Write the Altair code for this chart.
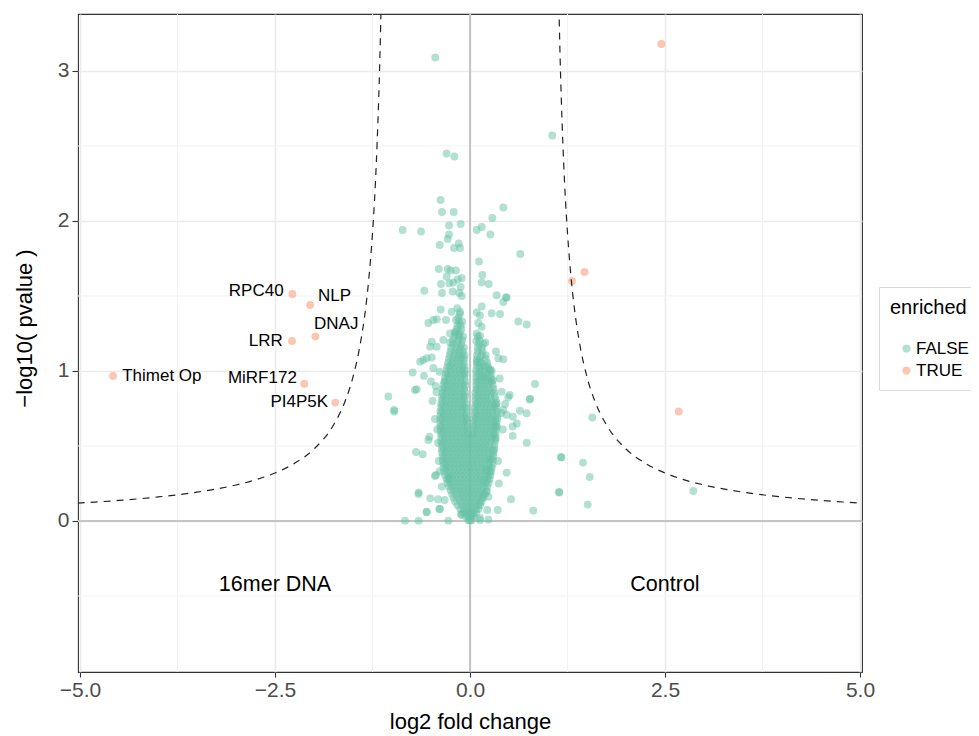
import altair as alt
import pandas as pd

# ---------------- data ----------------
# dense core of non-enriched proteins: one -log10 p level per row, fold changes in that row
core_y = [0.005, 0.03, 0.055, 0.08, 0.105, 0.13, 0.155, 0.18, 0.205, 0.23,
          0.255, 0.28, 0.305, 0.33, 0.355, 0.38, 0.405, 0.43, 0.455, 0.48,
          0.505, 0.53, 0.555, 0.58, 0.605, 0.63, 0.655, 0.68, 0.705, 0.73,
          0.755, 0.78, 0.805, 0.83, 0.855, 0.88, 0.905, 0.93, 0.955, 0.98,
          1.005, 1.03, 1.055, 1.08, 1.105, 1.13, 1.155, 1.18, 1.205, 1.23,
          1.255, 1.28, 1.305, 1.33, 1.355, 1.38]
core_x = [
    [-0.02, 0.0, 0.02],
    [-0.05, -0.025, 0.0, 0.025, 0.05],
    [-0.09, -0.05, -0.02, 0.02, 0.05, 0.08],
    [-0.125, -0.075, -0.025, 0.025, 0.075, 0.11],
    [-0.16, -0.1, -0.05, 0.0, 0.05, 0.1, 0.13],
    [-0.19, -0.125, -0.075, -0.025, 0.025, 0.075, 0.125, 0.15],
    [-0.21, -0.15, -0.1, -0.05, 0.0, 0.05, 0.1, 0.15, 0.17],
    [-0.23, -0.175, -0.125, -0.075, -0.025, 0.025, 0.075, 0.125, 0.175, 0.19],
    [-0.25, -0.2, -0.15, -0.1, -0.05, 0.0, 0.05, 0.1, 0.15, 0.21],
    [-0.27, -0.225, -0.175, -0.125, -0.075, -0.025, 0.025, 0.075, 0.125, 0.175, 0.22],
    [-0.29, -0.25, -0.2, -0.15, -0.1, -0.05, 0.0, 0.05, 0.1, 0.15, 0.2, 0.24],
    [-0.3, -0.275, -0.225, -0.175, -0.125, -0.075, -0.025, 0.025, 0.075, 0.125, 0.175, 0.225, 0.25],
    [-0.32, -0.27, -0.22, -0.17, -0.12, -0.07, -0.02, 0.03, 0.08, 0.13, 0.18, 0.23, 0.26],
    [-0.33, -0.295, -0.245, -0.195, -0.145, -0.095, -0.045, 0.005, 0.055, 0.105, 0.155, 0.205, 0.255, 0.27],
    [-0.34, -0.3, -0.25, -0.2, -0.15, -0.1, -0.05, 0.0, 0.05, 0.1, 0.15, 0.2, 0.25, 0.28],
    [-0.34, -0.315, -0.265, -0.215, -0.165, -0.115, -0.065, -0.015, 0.035, 0.085, 0.135, 0.185, 0.235, 0.29],
    [-0.35, -0.3, -0.25, -0.2, -0.15, -0.1, -0.05, 0.0, 0.05, 0.1, 0.15, 0.2, 0.25, 0.29],
    [-0.35, -0.325, -0.275, -0.225, -0.175, -0.125, -0.075, -0.025, 0.025, 0.075, 0.125, 0.175, 0.225, 0.275, 0.3],
    [-0.36, -0.31, -0.26, -0.21, -0.16, -0.11, -0.06, -0.01, 0.04, 0.09, 0.14, 0.19, 0.24, 0.3],
    [-0.36, -0.335, -0.285, -0.235, -0.185, -0.135, -0.085, -0.035, 0.015, 0.065, 0.115, 0.165, 0.215, 0.265, 0.31],
    [-0.36, -0.31, -0.26, -0.21, -0.16, -0.11, -0.06, -0.01, 0.04, 0.09, 0.14, 0.19, 0.24, 0.31],
    [-0.37, -0.335, -0.285, -0.235, -0.185, -0.135, -0.085, -0.035, 0.015, 0.065, 0.115, 0.165, 0.215, 0.265, 0.32],
    [-0.37, -0.32, -0.27, -0.22, -0.17, -0.12, -0.07, -0.02, 0.03, 0.08, 0.13, 0.18, 0.23, 0.28, 0.32],
    [-0.37, -0.345, -0.295, -0.245, -0.195, -0.145, -0.095, -0.045, -0.02, 0.03, 0.055, 0.105, 0.155, 0.205, 0.255, 0.305, 0.33],
    [-0.38, -0.33, -0.28, -0.23, -0.18, -0.13, -0.08, -0.03, 0.04, 0.09, 0.14, 0.19, 0.24, 0.29, 0.33],
    [-0.38, -0.355, -0.305, -0.255, -0.205, -0.155, -0.105, -0.055, -0.03, 0.04, 0.065, 0.115, 0.165, 0.215, 0.265, 0.315, 0.34],
    [-0.38, -0.33, -0.28, -0.23, -0.18, -0.13, -0.08, -0.04, 0.05, 0.1, 0.15, 0.2, 0.25, 0.3, 0.34],
    [-0.38, -0.355, -0.305, -0.255, -0.205, -0.155, -0.105, -0.055, -0.04, 0.05, 0.075, 0.125, 0.175, 0.225, 0.275, 0.325, 0.35],
    [-0.38, -0.33, -0.28, -0.23, -0.18, -0.13, -0.08, -0.05, 0.06, 0.1, 0.15, 0.2, 0.25, 0.3, 0.35],
    [-0.38, -0.355, -0.305, -0.255, -0.205, -0.155, -0.105, -0.05, 0.06, 0.085, 0.135, 0.185, 0.235, 0.285, 0.34],
    [-0.37, -0.32, -0.27, -0.22, -0.17, -0.12, -0.08, -0.05, 0.06, 0.11, 0.16, 0.21, 0.26, 0.31, 0.34],
    [-0.37, -0.345, -0.295, -0.245, -0.195, -0.145, -0.095, -0.05, 0.07, 0.095, 0.145, 0.195, 0.245, 0.295, 0.33],
    [-0.36, -0.31, -0.26, -0.21, -0.16, -0.11, -0.07, 0.07, 0.12, 0.17, 0.22, 0.27, 0.33],
    [-0.36, -0.335, -0.285, -0.235, -0.185, -0.135, -0.085, -0.06, 0.07, 0.105, 0.155, 0.205, 0.255, 0.32],
    [-0.35, -0.3, -0.25, -0.2, -0.15, -0.1, -0.06, 0.07, 0.12, 0.17, 0.22, 0.27, 0.31],
    [-0.35, -0.325, -0.275, -0.225, -0.175, -0.125, -0.075, 0.08, 0.095, 0.145, 0.195, 0.245, 0.3],
    [-0.34, -0.29, -0.24, -0.19, -0.14, -0.09, -0.06, 0.08, 0.13, 0.18, 0.23, 0.29],
    [-0.33, -0.315, -0.265, -0.215, -0.165, -0.115, -0.065, 0.08, 0.105, 0.155, 0.205, 0.255, 0.28],
    [-0.32, -0.27, -0.22, -0.17, -0.12, -0.07, 0.08, 0.13, 0.18, 0.23, 0.27],
    [-0.31, -0.285, -0.235, -0.185, -0.135, -0.085, -0.065, 0.08, 0.115, 0.165, 0.215, 0.26],
    [-0.3, -0.25, -0.2, -0.15, -0.1, -0.065, 0.08, 0.13, 0.18, 0.25],
    [-0.29, -0.255, -0.205, -0.155, -0.105, -0.07, 0.09, 0.125, 0.175, 0.23],
    [-0.28, -0.23, -0.18, -0.13, -0.08, 0.09, 0.14, 0.22],
    [-0.27, -0.215, -0.165, -0.115, -0.075, 0.09, 0.125, 0.2],
    [-0.26, -0.2, -0.15, -0.1, -0.07, 0.09, 0.15, 0.2],
    [-0.25, -0.19, -0.14, -0.09, 0.1, 0.16],
    [-0.24, -0.175, -0.125, -0.08, 0.1, 0.15],
    [-0.22, -0.16, -0.11, 0.11, 0.17],
    [-0.22, -0.15, -0.1, 0.12],
    [-0.2, -0.14, -0.09, 0.1],
    [-0.19, -0.13],
    [-0.17, -0.11],
    [-0.16, -0.12],
    [-0.14, -0.1],
    [-0.15],
    [-0.13],
]

# scattered non-enriched proteins (log2 fold change, -log10 p)
false_scatter = [
    (-0.445, 3.09), (-0.30, 2.45), (-0.20, 2.43), (1.055, 2.57),
    (-0.376, 2.14), (0.427, 2.09), (-0.359, 2.06), (-0.209, 2.06), (0.286, 2.02),
    (-0.269, 1.97), (-0.12, 1.98), (0.15, 1.96), (0.086, 1.94), (-0.863, 1.94),
    (-0.628, 1.93), (0.26, 1.91), (-0.269, 1.91), (-0.286, 1.88), (-0.389, 1.84),
    (-0.145, 1.85), (-0.205, 1.82), (-0.128, 1.82), (0.645, 1.78), (0.115, 1.73),
    (-0.40, 1.68), (-0.286, 1.68), (-0.248, 1.67), (-0.18, 1.67), (0.158, 1.64),
    (-0.299, 1.63), (-0.107, 1.62), (-0.158, 1.61), (-0.372, 1.58), (-0.265, 1.585),
    (-0.214, 1.59), (-0.12, 1.56), (0.15, 1.59), (0.24, 1.58), (-0.586, 1.535),
    (-0.359, 1.52), (-0.222, 1.53), (-0.137, 1.52), (0.342, 1.505), (0.462, 1.49),
    (-0.107, 1.50), (0.47, 1.49), (0.427, 1.46),
    (-0.376, 1.41), (-0.235, 1.395), (-0.163, 1.418), (-0.128, 1.395), (0.15, 1.43),
    (0.086, 1.39), (0.128, 1.37), (0.278, 1.385), (0.385, 1.38), (-0.534, 1.32),
    (-0.47, 1.34), (-0.427, 1.345), (-0.308, 1.34), (-0.18, 1.34), (0.62, 1.33),
    (0.727, 1.31), (0.106, 1.32), (0.15, 1.295), (-0.256, 1.25), (-0.192, 1.26),
    (-0.15, 1.24), (0.086, 1.25), (0.128, 1.235), (-0.342, 1.207), (-0.49, 1.195),
    (-0.51, 1.162), (-0.427, 1.162), (-0.256, 1.19), (0.081, 1.20), (0.197, 1.19),
    (0.333, 1.13), (0.427, 1.078), (0.363, 1.085), (-0.60, 1.073), (-0.556, 1.085),
    (-0.49, 1.09), (-0.64, 1.062), (0.086, 1.06), (0.128, 1.06), (0.197, 1.03),
    (0.26, 1.01), (0.278, 1.00), (-0.735, 0.99), (-0.47, 1.02), (-0.39, 0.995),
    (-0.59, 0.967), (-0.50, 0.93), (-0.44, 0.90), (0.833, 0.913), (0.167, 0.96),
    (0.295, 0.94), (0.38, 0.95), (-0.705, 0.873), (-0.683, 0.878), (-1.047, 0.83),
    (-0.974, 0.74), (0.406, 0.862), (0.49, 0.825), (0.51, 0.84), (0.77, 0.815),
    (0.765, 0.81), (0.64, 0.735), (0.727, 0.718), (0.342, 0.785), (0.427, 0.74),
    (0.47, 0.707), (0.55, 0.695), (0.45, 0.78), (0.40, 0.72), (0.60, 0.65),
    (-0.48, 0.80), (-0.45, 0.68), (-0.42, 0.61), (-0.43, 0.86), (-0.41, 0.52),
    (-0.692, 0.46), (-0.607, 0.445), (-0.52, 0.562), (-0.534, 0.54), (0.727, 0.522),
    (1.167, 0.425), (0.547, 0.63), (0.547, 0.567), (0.342, 0.63), (0.42, 0.61),
    (0.47, 0.322), (-0.436, 0.307), (-0.45, 0.30), (-0.658, 0.19), (-0.66, 0.18),
    (1.141, 0.193), (0.526, 0.145), (-0.41, 0.145), (-0.325, 0.14), (-0.393, 0.08),
    (-0.556, 0.062), (-0.556, 0.058), (-0.385, 0.08), (0.355, 0.073), (0.222, 0.073),
    (0.812, 0.069), (-0.833, 0.002), (-0.658, 0.002), (-0.278, 0.002), (0.128, 0.02),
    (0.235, 0.01), (-0.107, 0.04), (-0.115, 0.047), (0.128, 0.007), (-0.97, 0.73),
    (0.256, 0.41), (0.214, 0.34), (0.17, 0.273), (0.214, 0.195), (0.235, 0.162),
    (-0.265, 0.285), (-0.363, 0.229), (-0.51, 0.151), (0.30, 0.47), (0.33, 0.55),
    (0.36, 0.40), (0.37, 0.25), (-0.40, 0.40), (-0.39, 0.33),
    (1.568, 0.69), (1.171, 0.425), (1.449, 0.389), (1.535, 0.293), (1.145, 0.19),
    (1.509, 0.109), (2.863, 0.20),
]

# enriched proteins
true_x = [2.453, 1.308, 1.47, 2.676, -2.278, -2.05, -1.983, -2.282, -2.124, -1.727, -4.577]
true_y = [3.18, 1.60, 1.66, 0.73, 1.513, 1.44, 1.231, 1.20, 0.915, 0.789, 0.967]

# gene labels: text, anchor of the text, alignment
label_text = ["RPC40", "NLP", "DNAJ", "LRR", "MiRF172", "PI4P5K", "Thimet Op"]
label_x = [-2.39, -1.95, -2.0, -2.40, -2.22, -1.82, -4.46]
label_y = [1.535, 1.50, 1.313, 1.202, 0.955, 0.795, 0.967]
label_align = ["right", "left", "left", "right", "right", "right", "left"]

# threshold curve (right branch; the left branch is its mirror)
curve_x = [1.13, 1.14, 1.15, 1.16, 1.18, 1.20, 1.225, 1.25, 1.30, 1.35, 1.40, 1.50,
           1.60, 1.75, 2.00, 2.25, 2.50, 2.75, 3.00, 3.50, 4.00, 4.50, 5.03]
curve_y = [3.69, 3.43, 3.20, 3.00, 2.67, 2.40, 2.13, 1.92, 1.60, 1.37, 1.20, 0.96,
           0.80, 0.64, 0.48, 0.384, 0.32, 0.274, 0.24, 0.192, 0.16, 0.137, 0.119]

group_text = ["16mer DNA", "Control"]
group_x = [-2.5, 2.5]
group_y = [-0.43, -0.43]

x_ticks = [-5.0, -2.5, 0.0, 2.5, 5.0]
y_ticks = [0, 1, 2, 3]
minor_x = [-3.75, -1.25, 1.25, 3.75]
minor_y = [-0.5, 0.5, 1.5, 2.5]

# ---------------- tables ----------------
rows = []
for yv, xs in zip(core_y, core_x):
    for xv in xs:
        rows.append({"fc": xv, "p": yv, "enriched": "FALSE"})
for xv, yv in false_scatter:
    rows.append({"fc": xv, "p": yv, "enriched": "FALSE"})
for xv, yv in zip(true_x, true_y):
    rows.append({"fc": xv, "p": yv, "enriched": "TRUE"})
pts = pd.DataFrame(rows)

curve = pd.DataFrame(
    [{"x": v, "y": w, "side": "right"} for v, w in zip(curve_x, curve_y)]
    + [{"x": -v, "y": w, "side": "left"} for v, w in zip(curve_x, curve_y)]
)
labels = pd.DataFrame({"t": label_text, "x": label_x, "y": label_y, "a": label_align})
groups = pd.DataFrame({"t": group_text, "x": group_x, "y": group_y})

FONT = "Liberation Sans"
xscale = alt.Scale(domain=[-5.026, 5.026], nice=False, zero=False)
yscale = alt.Scale(domain=[-1.007, 3.38], nice=False, zero=False)

x_axis = alt.Axis(values=x_ticks, format=".1f", title="log2 fold change",
                  titleFontSize=22, titleColor="#000000", titleFontWeight="normal",
                  titleY=56, titleBaseline="alphabetic",
                  labelFontSize=21, labelColor="#4D4D4D", labelPadding=2,
                  tickSize=5, tickColor="#333333", tickWidth=1.1,
                  grid=True, gridColor="#EBEBEB", gridWidth=1.6, domain=False)
y_axis = alt.Axis(values=y_ticks, format="d", title="\u2212log10( pvalue )",
                  titleFontSize=22, titleColor="#000000", titleFontWeight="normal",
                  titleX=-47, titleY=314, titleAngle=270, titleAlign="center",
                  titleBaseline="alphabetic",
                  labelFontSize=21, labelColor="#4D4D4D", labelPadding=3,
                  tickSize=6, tickColor="#333333", tickWidth=1.1,
                  grid=True, gridColor="#EBEBEB", gridWidth=1.6, domain=False)


def X(field):
    return alt.X(field, scale=xscale, axis=x_axis)


def Y(field):
    return alt.Y(field, scale=yscale, axis=y_axis)


minor_gx = alt.Chart(pd.DataFrame({"v": minor_x})).mark_rule(
    color="#F2F2F2", strokeWidth=1).encode(x=X("v:Q"))
minor_gy = alt.Chart(pd.DataFrame({"v": minor_y})).mark_rule(
    color="#F2F2F2", strokeWidth=1).encode(y=Y("v:Q"))

zero_x = alt.Chart(pd.DataFrame({"v": [0.0]})).mark_rule(
    color="#C4C4C4", strokeWidth=2).encode(x=X("v:Q"))
zero_y = alt.Chart(pd.DataFrame({"v": [0.0]})).mark_rule(
    color="#C4C4C4", strokeWidth=2).encode(y=Y("v:Q"))

points = alt.Chart(pts).mark_circle(size=62, opacity=0.5).encode(
    x=X("fc:Q"),
    y=Y("p:Q"),
    color=alt.Color("enriched:N",
                    scale=alt.Scale(domain=["FALSE", "TRUE"], range=["#66C2A5", "#FC8D62"]),
                    legend=alt.Legend(title="enriched", orient="none",
                                      legendX=801, legendY=273)),
)

curve_line = alt.Chart(curve).mark_line(
    color="#222222", strokeWidth=1.2, strokeDash=[7, 6], clip=True,
    interpolate="monotone").encode(
    x=X("x:Q"), y=Y("y:Q"), detail="side:N", order="x:Q",
)

lab_right = alt.Chart(labels).transform_filter(alt.datum.a == "right").mark_text(
    align="right", baseline="middle", fontSize=17, font=FONT, color="#000000").encode(
    x=X("x:Q"), y=Y("y:Q"), text="t:N")
lab_left = alt.Chart(labels).transform_filter(alt.datum.a == "left").mark_text(
    align="left", baseline="middle", fontSize=17, font=FONT, color="#000000").encode(
    x=X("x:Q"), y=Y("y:Q"), text="t:N")

grp = alt.Chart(groups).mark_text(
    align="center", baseline="middle", fontSize=21.5, font=FONT, color="#000000").encode(
    x=X("x:Q"), y=Y("y:Q"), text="t:N")

chart = alt.layer(
    minor_gx, minor_gy, zero_x, zero_y, points, curve_line,
    lab_right, lab_left, grp
).properties(
    width=784, height=658,
    autosize=alt.AutoSizeParams(type="none"),
    padding={"left": 70, "top": 6, "right": 109, "bottom": 64},
).configure(
    font=FONT,
).configure_view(
    stroke="#333333", strokeWidth=1.1,
).configure_legend(
    titleFontSize=20, titleFontWeight="normal", titleColor="#000000",
    labelFontSize=17, labelColor="#000000",
    symbolType="circle", symbolSize=68, symbolOpacity=0.5, symbolStrokeWidth=0,
    padding=11, titlePadding=22, rowPadding=4,
    symbolOffset=8, labelOffset=1,
    strokeColor="#DADADA", fillColor="#FFFFFF",
)

chart.save("out.html", embed_options={"renderer": "svg", "actions": False})
